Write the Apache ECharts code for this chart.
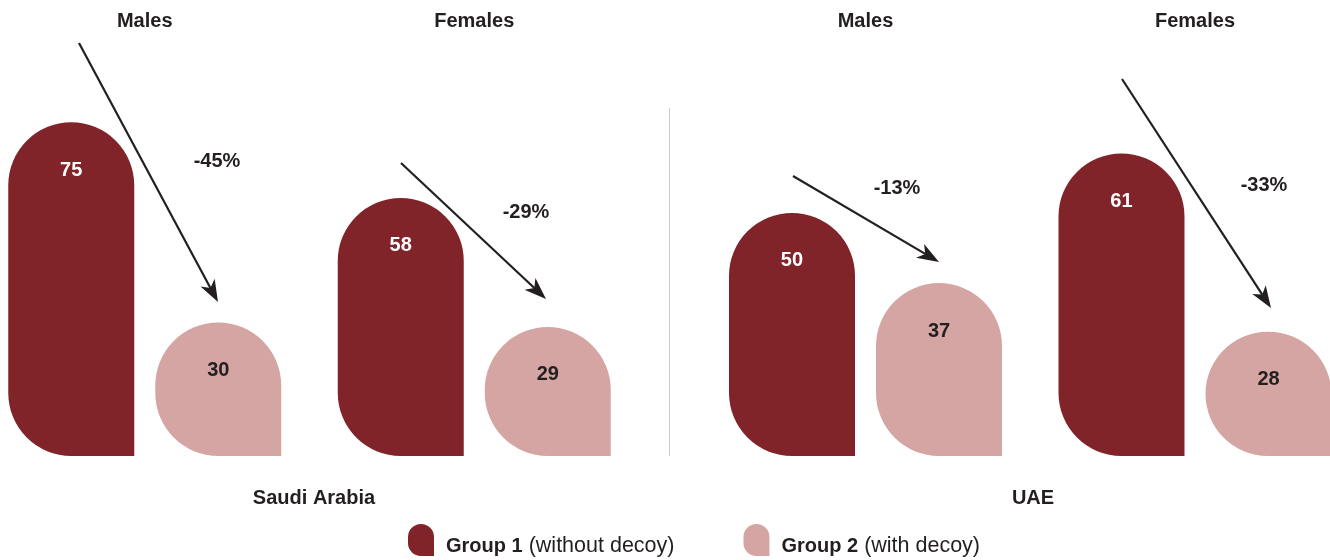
<!DOCTYPE html>
<html>
<head>
<meta charset="utf-8">
<script src="https://cdn.jsdelivr.net/npm/echarts@6/dist/echarts.min.js"></script>
<style>
html,body{margin:0;padding:0;background:#fff;}
#chart{width:1330px;height:560px;}
</style>
</head>
<body>
<div id="chart"></div>
<script>
// ---- data ----
var categories = ['Males', 'Females'];
var countries = ['Saudi Arabia', 'UAE'];
var saudiGroup1 = [75, 58];
var saudiGroup2 = [30, 29];
var uaeGroup1 = [50, 61];
var uaeGroup2 = [37, 28];
var changeLabels = ['-45%', '-29%', '-13%', '-33%'];
var groupNames = ['Group 1', 'Group 2'];
var groupNotes = ['(without decoy)', '(with decoy)'];

// ---- styles ----
var DARK = '#81242a';
var LIGHT = '#d4a5a2';
var TEXT = '#231f20';
var FONT = 'Liberation Sans, Arial, Helvetica, sans-serif';
var R = 63;

var chart = echarts.init(document.getElementById('chart'));

function barSeries(name, data, axisIdx, color, labelColor) {
  return {
    name: name,
    type: 'bar',
    xAxisIndex: axisIdx,
    yAxisIndex: axisIdx,
    data: data,
    barWidth: 126,
    barGap: '16.67%',
    itemStyle: { color: color, borderRadius: [R, R, 0, R] },
    label: {
      show: true,
      position: 'insideTop',
      distance: 38,
      color: labelColor,
      fontFamily: FONT,
      fontWeight: 'bold',
      fontSize: 20
    },
    emphasis: { disabled: true },
    silent: true
  };
}

function xAxisCfg(idx) {
  return {
    type: 'category',
    gridIndex: idx,
    data: categories,
    position: 'top',
    axisLine: { show: false },
    axisTick: { show: false },
    axisLabel: {
      margin: 9,
      color: TEXT,
      fontFamily: FONT,
      fontWeight: 'bold',
      fontSize: 20
    }
  };
}

// arrow decorations (pixel annotations)
var arrows = [
  { s: [79, 43], t: [218, 302], label: [217, 161] },
  { s: [401, 163], t: [546, 299], label: [526, 212] },
  { s: [793, 176], t: [939, 262], label: [897, 188] },
  { s: [1122, 79], t: [1271, 308], label: [1264, 185] }
];

var graphics = [];
arrows.forEach(function (a, i) {
  var dx = a.t[0] - a.s[0], dy = a.t[1] - a.s[1];
  var len = Math.sqrt(dx * dx + dy * dy);
  var ux = dx / len, uy = dy / len;
  var nx = -uy, ny = ux;
  var L = 22, W = 8, N = 6;
  var bx = a.t[0] - L * ux, by = a.t[1] - L * uy;
  var mx = a.t[0] - (L - N) * ux, my = a.t[1] - (L - N) * uy;
  graphics.push({
    type: 'line', silent: true,
    shape: { x1: a.s[0], y1: a.s[1], x2: mx, y2: my },
    style: { stroke: TEXT, lineWidth: 2.2 }
  });
  graphics.push({
    type: 'polygon', silent: true,
    shape: { points: [a.t, [bx + W * nx, by + W * ny], [mx, my], [bx - W * nx, by - W * ny]] },
    style: { fill: TEXT }
  });
  graphics.push({
    type: 'text', silent: true,
    x: a.label[0], y: a.label[1],
    style: {
      text: changeLabels[i], fill: TEXT, font: 'bold 20px ' + FONT,
      textAlign: 'center', textVerticalAlign: 'middle'
    }
  });
});
// divider
graphics.push({
  type: 'line', silent: true,
  shape: { x1: 669.5, y1: 108, x2: 669.5, y2: 456 },
  style: { stroke: '#d6c6c4', lineWidth: 1 }
});
// country labels
[[314, countries[0]], [1033, countries[1]]].forEach(function (c) {
  graphics.push({
    type: 'text', silent: true,
    x: c[0], y: 498,
    style: {
      text: c[1], fill: TEXT, font: 'bold 20px ' + FONT,
      textAlign: 'center', textVerticalAlign: 'middle'
    }
  });
});

var option = {
  animation: false,
  backgroundColor: '#fff',
  grid: [
    { left: -20, width: 659, top: 40, height: 416, outerBoundsMode: 'none', containLabel: false },
    { left: 700.75, width: 659, top: 40, height: 416, outerBoundsMode: 'none', containLabel: false }
  ],
  xAxis: [xAxisCfg(0), xAxisCfg(1)],
  yAxis: [
    { type: 'value', gridIndex: 0, min: 0, max: 93.5, show: false, splitLine: { show: false } },
    { type: 'value', gridIndex: 1, min: 5, max: 82, show: false, splitLine: { show: false } }
  ],
  legend: {
    data: groupNames,
    left: 408,
    top: 524,
    padding: 0,
    itemWidth: 26,
    itemHeight: 32,
    itemGap: 69,
    selectedMode: false,
    icon: 'path://M0,13 A13,13 0 0 1 26,13 L26,32 L13,32 A13,13 0 0 1 0,19 Z',
    formatter: function (name) {
      var i = groupNames.indexOf(name);
      return '{b|' + name + '}{r|' + groupNotes[i] + '}';
    },
    textStyle: {
      color: TEXT,
      fontFamily: FONT,
      fontSize: 20,
      padding: [12, 0, 0, 0],
      rich: {
        b: { fontWeight: 'bold', fontSize: 20, fontFamily: FONT, color: TEXT, padding: [0, 0, 0, 7] },
        r: { fontWeight: 'normal', fontSize: 21.5, fontFamily: FONT, color: TEXT, padding: [0, 0, 0, 6] }
      }
    }
  },
  series: [
    barSeries(groupNames[0], saudiGroup1, 0, DARK, '#ffffff'),
    barSeries(groupNames[1], saudiGroup2, 0, LIGHT, TEXT),
    barSeries(groupNames[0], uaeGroup1, 1, DARK, '#ffffff'),
    barSeries(groupNames[1], uaeGroup2, 1, LIGHT, TEXT)
  ],
  graphic: graphics
};

chart.setOption(option);
</script>
</body>
</html>
